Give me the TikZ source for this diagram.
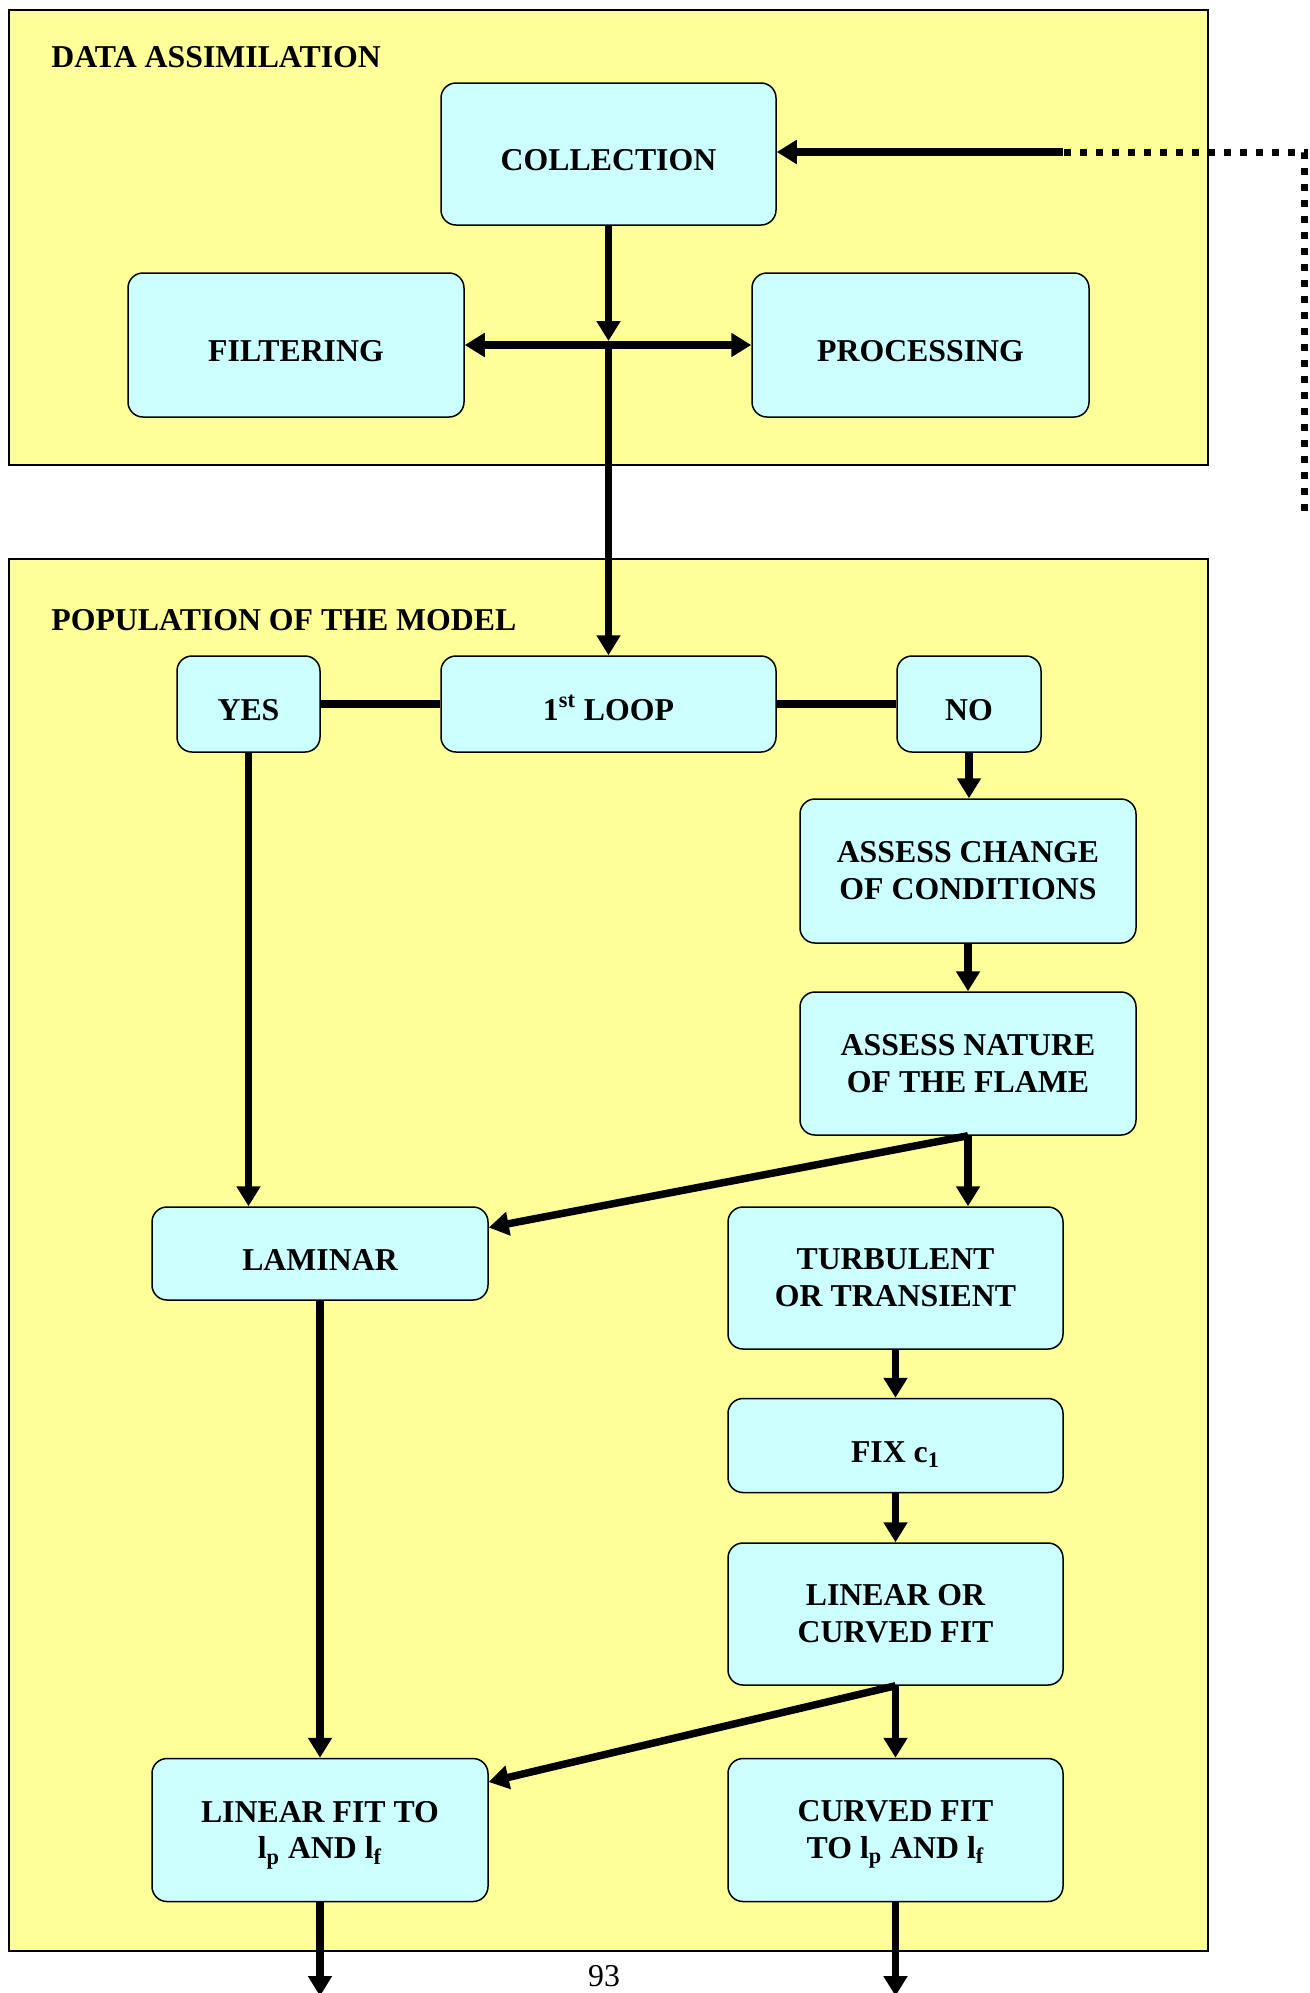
\documentclass[tikz,border=0pt]{standalone}
\usepackage{fontspec}
\setmainfont{Liberation Serif}
\usetikzlibrary{arrows.meta,calc}

\definecolor{panelyellow}{RGB}{255,255,153}
\definecolor{boxcyan}{RGB}{204,255,255}

\newcommand{\lowidx}[1]{\smash{\textsubscript{#1}}}
\newcommand{\highidx}[1]{\smash{\textsuperscript{#1}}}

\begin{document}
\begin{tikzpicture}[x=0.5pt,y=-0.5pt,
  panel/.style={draw=black,line width=1.2pt,fill=panelyellow},
  stage/.style={draw=black,line width=0.75pt,fill=boxcyan,rounded corners=7.5pt,
    align=center,inner sep=0pt,font=\fontsize{15.9}{18.4}\selectfont\bfseries},
  oneline/.style={text height=16.5pt,text depth=0pt},
  heading/.style={anchor=west,inner sep=0pt,font=\fontsize{15.9}{18.4}\selectfont\bfseries},
  tip/.tip={Triangle[length=10pt,width=11.5pt]},
  flow/.style={line width=3.75pt,-tip},
  link/.style={line width=3.75pt},
  feedback/.style={line width=3.5pt,dash pattern=on 3.5pt off 4.5pt},
]
% page
\fill[white] (0,0) rectangle (1310,1993);
\clip (0,0) rectangle (1310,1993);

% the two panels
\draw[panel] (9,10) rectangle (1208,465);
\draw[panel] (9,559) rectangle (1208,1951);
\node[heading] (hdA) at (51,57) {DATA ASSIMILATION};
\node[heading] (hdB) at (51,620) {POPULATION OF THE MODEL};

% data assimilation stages
\node[stage,oneline,minimum width=167.5pt,minimum height=71pt] (coll) at (608.5,154) {COLLECTION};
\node[stage,oneline,minimum width=168pt,minimum height=72pt] (filt) at (296,345) {FILTERING};
\node[stage,oneline,minimum width=168.5pt,minimum height=72pt] (proc) at (920.5,345) {PROCESSING};

% population of the model stages
\node[stage,oneline,minimum width=71.5pt,minimum height=48pt] (yes) at (248.5,704) {YES};
\node[stage,oneline,minimum width=167.5pt,minimum height=48pt] (loop) at (608.5,704) {1\highidx{st} LOOP};
\node[stage,oneline,minimum width=72pt,minimum height=48pt] (no) at (969,704) {NO};
\node[stage,minimum width=168pt,minimum height=72pt] (chg) at (968,871) {ASSESS CHANGE\\OF CONDITIONS};
\node[stage,minimum width=168pt,minimum height=71.5pt] (nat) at (968,1063.5) {ASSESS NATURE\\OF THE FLAME};
\node[stage,oneline,minimum width=168pt,minimum height=46.5pt] (lam) at (320,1253.5) {LAMINAR};
\node[stage,minimum width=167.5pt,minimum height=71pt] (turb) at (895.5,1278) {TURBULENT\\OR TRANSIENT};
\node[stage,oneline,minimum width=167.5pt,minimum height=47pt] (fix) at (895.5,1445.5) {FIX c\lowidx{1}};
\node[stage,minimum width=167.5pt,minimum height=71pt] (lor) at (895.5,1614) {LINEAR OR\\CURVED FIT};
\node[stage,minimum width=168pt,minimum height=71.5pt] (lfit) at (320,1830) {LINEAR FIT TO\\l\lowidx{p} AND l\lowidx{f}};
\node[stage,minimum width=167.5pt,minimum height=71.5pt] (cfit) at (895.5,1830) {CURVED FIT\\TO l\lowidx{p} AND l\lowidx{f}};

% page number
\node[font=\fontsize{15.9}{18.4}\selectfont,inner sep=0pt] (pg) at (604,1976) {93};

% assimilation connectors
\coordinate (cross) at (coll.south |- filt.east);
\draw[flow] (coll.south) -- ([yshift=2pt]cross);
\draw[link,tip-tip] (filt.east) -- (proc.west);
\draw[flow] (cross) -- (loop.north);

% feedback into collection
\coordinate (fbA) at (1304,511);
\coordinate (fbB) at (1304,152);
\coordinate (fbC) at (1063,152);
\draw[feedback] (fbA) -- (fbB) -- (fbC);
\draw[flow] (fbC) -- (fbC -| coll.east);

% first loop decision
\draw[link] (yes.east) -- (loop.west);
\draw[link] (loop.east) -- (no.west);
\draw[flow] (no.south) -- (no.south |- chg.north);
\draw[flow] (chg.south) -- (nat.north);
\draw[flow] (nat.south) -- (nat.south |- turb.north);
\draw[flow] (nat.south) -- ([yshift=13pt]lam.east);
\draw[flow] (yes.south) -- (yes.south |- lam.north);

% fitting
\draw[flow] (lam.south) -- (lam.south |- lfit.north);
\draw[flow] (turb.south) -- (fix.north);
\draw[flow] (fix.south) -- (lor.north);
\draw[flow] (lor.south) -- (cfit.north);
\draw[flow] (lor.south) -- ([yshift=24pt]lfit.east);

% continuing below
\coordinate (outL) at (320,1996);
\coordinate (outR) at (897,1996);
\draw[flow] (lfit.south) -- (outL);
\draw[flow] (cfit.south) -- (cfit.south |- outR);
\end{tikzpicture}
\end{document}
